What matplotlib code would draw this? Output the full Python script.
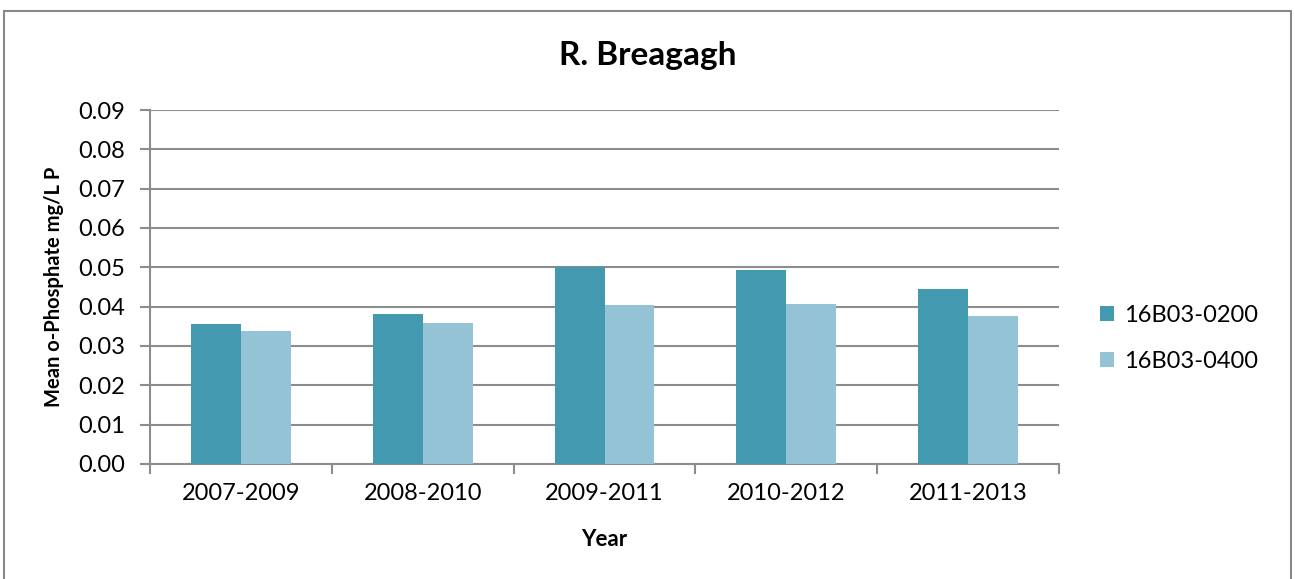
import numpy as np
import matplotlib
matplotlib.use("Agg")
import matplotlib.pyplot as plt
from matplotlib.patches import Rectangle

plt.rcParams["font.family"] = ["Lato", "DejaVu Sans"]

# ── Data ─────────────────────────────────────────────────────────────────────
years = ["2007-2009", "2008-2010", "2009-2011", "2010-2012", "2011-2013"]
s0200 = [0.0357, 0.0382, 0.0501, 0.0492, 0.0444]
s0400 = [0.0337, 0.0358, 0.0404, 0.0407, 0.0376]
series_names = ["16B03-0200", "16B03-0400"]
yticks = [0.00, 0.01, 0.02, 0.03, 0.04, 0.05, 0.06, 0.07, 0.08, 0.09]

DARK = "#4399B0"
LIGHT = "#93C3D5"
GRID = "#8C8C8C"

fig = plt.figure(figsize=(12.95, 5.79), dpi=100)
# chart frame: runs off the bottom edge like the screenshot
fig.patches.append(Rectangle((4 / 1295, -0.05), 1287 / 1295, 1 - 11 / 579 + 0.05,
                             transform=fig.transFigure, fill=False,
                             edgecolor="#888888", lw=1.5, clip_on=False))

ax = fig.add_axes([150 / 1295, 1 - 464 / 579, 909 / 1295, 354 / 579])

x = np.arange(len(years))
w = 0.275
ax.bar(x - w / 2, s0200, w, color=DARK, label=series_names[0], zorder=3)
ax.bar(x + w / 2, s0400, w, color=LIGHT, label=series_names[1], zorder=3)

ax.set_xlim(-0.5, len(years) - 0.5)
ax.set_ylim(0, 0.09)
ax.set_yticks(yticks)
ax.set_yticklabels([f"{v:.2f}" for v in yticks], fontsize=17)
ax.set_xticks(x)
ax.set_xticklabels(years, fontsize=17)
ax.set_xticks(np.arange(-0.5, len(years)), minor=True)
ax.tick_params(axis="x", which="major", length=0, pad=14)
ax.tick_params(axis="x", which="minor", length=7, width=1.5, color=GRID)
ax.tick_params(axis="y", length=7, width=1.5, color=GRID, pad=11)

ax.grid(True, axis="y", color=GRID, lw=1.5, zorder=0)
for side in ["top", "right"]:
    ax.spines[side].set_visible(False)
for side in ["left", "bottom"]:
    ax.spines[side].set_color(GRID)
    ax.spines[side].set_linewidth(1.5)

ax.set_xlabel("Year", fontsize=16, fontweight="bold", labelpad=18)
ax.set_ylabel("Mean o-Phosphate mg/L P", fontsize=14.5, fontweight="bold", labelpad=10)
fig.text(648 / 1295, 1 - 56 / 579, "R. Breagagh", fontsize=24, fontweight="bold",
         ha="center", va="center")

ax.legend(loc="upper left", bbox_to_anchor=(1.035, 0.475), frameon=False,
          fontsize=17, handlelength=0.6, handleheight=0.6, handletextpad=0.4,
          labelspacing=1.05, borderaxespad=0)

fig.savefig("out.png", dpi=100, facecolor="white")
